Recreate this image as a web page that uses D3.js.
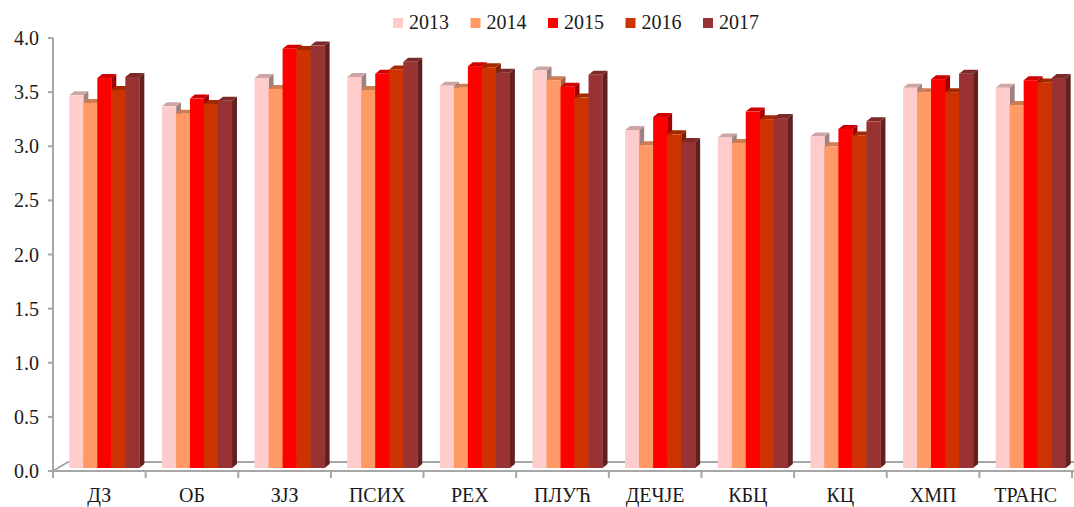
<!DOCTYPE html>
<html>
<head>
<meta charset="utf-8">
<script src="https://cdn.jsdelivr.net/npm/d3@7"></script>
<style>
  body { margin: 0; background: #fff; }
</style>
</head>
<body>
<div id="chart"></div>
<script>
const categories = ["ДЗ","ОБ","ЗЈЗ","ПСИХ","РЕХ","ПЛУЋ","ДЕЧЈЕ","КБЦ","КЦ","ХМП","ТРАНС"];
const years = ["2013","2014","2015","2016","2017"];
const colors = ["#FFCCCC","#FF9966","#FF0000","#CC3300","#993333"];
const yTicks = [0,0.5,1,1.5,2,2.5,3,3.5,4];

const v2013 = [3.47,3.37,3.63,3.64,3.56,3.70,3.15,3.08,3.09,3.54,3.54];
const v2014 = [3.40,3.30,3.53,3.52,3.54,3.61,3.01,3.03,3.00,3.50,3.38];
const v2015 = [3.63,3.44,3.90,3.67,3.74,3.55,3.27,3.32,3.16,3.62,3.61];
const v2016 = [3.52,3.39,3.89,3.71,3.73,3.45,3.11,3.25,3.10,3.50,3.59];
const v2017 = [3.64,3.42,3.93,3.78,3.68,3.66,3.04,3.26,3.23,3.67,3.63];
const series = [v2013, v2014, v2015, v2016, v2017];

const width = 1074, height = 507;
const font = "'Liberation Serif','Times New Roman',serif";
const axisColor = "#a6a6a6";
// depth of the 3d look
const depth = {"bar": 5, "barY": -4, "floor": 15, "floorY": -9, "shift": 5};

const svg = d3.select("#chart")
  .append("svg")
    .attr("width", width)
    .attr("height", height);

const x0 = d3.scaleBand()
  .domain(categories)
  .range([53, 1072])
  .paddingInner(0.244)
  .paddingOuter(0.122);

const x1 = d3.scaleBand()
  .domain(years)
  .range([0, x0.bandwidth()]);

const y = d3.scaleLinear()
  .domain([0, 4])
  .range([471, 38]);

// floor and axes
const axis = svg.append("g");
axis.append("line")
  .attr("x1", 53).attr("x2", 53)
  .attr("y1", y(4)).attr("y2", y(0))
  .attr("stroke", axisColor).attr("stroke-width", 2);
axis.append("line")
  .attr("x1", 53).attr("x2", width)
  .attr("y1", y(0)).attr("y2", y(0))
  .attr("stroke", axisColor).attr("stroke-width", 2);
axis.append("line")
  .attr("x1", 53 + depth.floor).attr("x2", width)
  .attr("y1", y(0) + depth.floorY).attr("y2", y(0) + depth.floorY)
  .attr("stroke", axisColor).attr("stroke-width", 2);
axis.append("line")
  .attr("x1", 53).attr("x2", 53 + depth.floor)
  .attr("y1", y(0)).attr("y2", y(0) + depth.floorY)
  .attr("stroke", axisColor).attr("stroke-width", 2);

axis.selectAll(".ytick")
  .data(yTicks)
  .enter()
  .append("line")
  .attr("x1", 48).attr("x2", 53)
  .attr("y1", d => y(d)).attr("y2", d => y(d))
  .attr("stroke", axisColor).attr("stroke-width", 2);

axis.selectAll(".ylabel")
  .data(yTicks)
  .enter()
  .append("text")
  .attr("x", 39)
  .attr("y", d => y(d) + 7)
  .attr("text-anchor", "end")
  .attr("font-family", font)
  .attr("font-size", 20)
  .attr("fill", "#1a1a1a")
  .text(d => d.toFixed(1));

const step = x0.step();
axis.selectAll(".xtick")
  .data(d3.range(categories.length + 1))
  .enter()
  .append("line")
  .attr("x1", i => 53 + i * step).attr("x2", i => 53 + i * step)
  .attr("y1", y(0)).attr("y2", y(0) + 7)
  .attr("stroke", axisColor).attr("stroke-width", 2);

axis.selectAll(".xlabel")
  .data(categories)
  .enter()
  .append("text")
  .attr("x", d => x0(d) + x0.bandwidth() / 2)
  .attr("y", 502)
  .attr("text-anchor", "middle")
  .attr("font-family", font)
  .attr("font-size", 20)
  .attr("fill", "#1a1a1a")
  .text(d => d);

// bars, drawn left to right so each front face hides the previous side
const bars = svg.append("g");
const base = y(0) - 3;
categories.forEach((c, ci) => {
  years.forEach((yr, si) => {
    const v = series[si][ci];
    const x = x0(c) + x1(yr) + depth.shift;
    const w = x1.bandwidth();
    const top = y(v);
    const dx = depth.bar, dy = depth.barY;
    const col = d3.color(colors[si]);
    const g = bars.append("g");
    g.append("path")
      .attr("d", `M${x + w},${top} L${x + w + dx},${top + dy} L${x + w + dx},${base + dy} L${x + w},${base} Z`)
      .attr("fill", col.darker(1.3));
    g.append("path")
      .attr("d", `M${x},${top} L${x + dx},${top + dy} L${x + w + dx},${top + dy} L${x + w},${top} Z`)
      .attr("fill", col.darker(0.6));
    g.append("rect")
      .attr("x", x)
      .attr("y", top)
      .attr("width", w + 0.3)
      .attr("height", base - top)
      .attr("fill", colors[si]);
  });
});

// legend
const legend = svg.append("g");
const lg = legend.selectAll("g")
  .data(years)
  .enter()
  .append("g")
  .attr("transform", (d, i) => `translate(${393 + i * 77.5},0)`);
lg.append("rect")
  .attr("x", 0).attr("y", 18)
  .attr("width", 10).attr("height", 10)
  .attr("fill", (d, i) => colors[i]);
lg.append("text")
  .attr("x", 16).attr("y", 29)
  .attr("font-family", font)
  .attr("font-size", 20)
  .attr("fill", "#1a1a1a")
  .text(d => d);
</script>
</body>
</html>
